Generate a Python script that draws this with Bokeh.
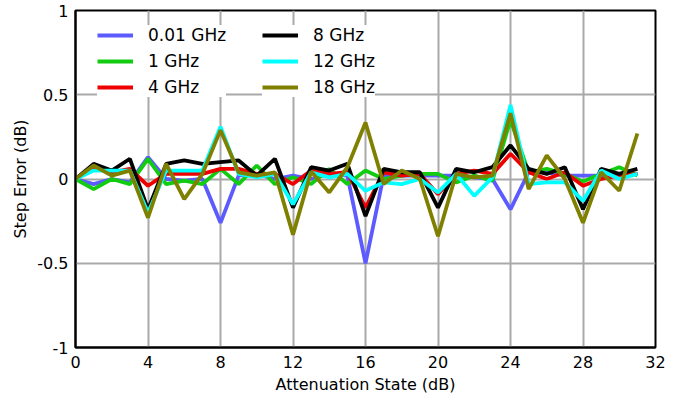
from bokeh.plotting import figure
from bokeh.models import Legend, LegendItem, FixedTicker, Range1d
from bokeh.embed import file_html
from bokeh.resources import INLINE

states = list(range(32))

err_001 = [0.0, -0.03, 0.0, -0.02, 0.13, 0.0, -0.01, 0.0, -0.26, 0.02, 0.03, 0.0,
           0.02, 0.0, 0.03, 0.02, -0.5, 0.02, 0.02, 0.02, 0.02, 0.02, 0.01, 0.0,
           -0.18, 0.04, 0.04, 0.02, 0.02, 0.02, 0.03, 0.03]
err_1 = [0.0, -0.06, 0.0, -0.03, 0.12, -0.03, -0.01, -0.03, 0.06, -0.03, 0.08, -0.03,
         0.01, -0.03, 0.06, -0.03, 0.05, 0.0, 0.02, 0.03, 0.03, -0.02, 0.02, -0.01,
         0.35, 0.04, 0.06, 0.03, -0.015, 0.03, 0.07, 0.02]
err_4 = [0.0, 0.07, 0.04, 0.06, -0.04, 0.03, 0.03, 0.03, 0.06, 0.06, 0.03, 0.03,
         -0.03, 0.05, 0.03, 0.04, -0.17, 0.04, 0.02, 0.03, -0.09, 0.03, 0.05, 0.03,
         0.15, 0.04, 0.0, 0.04, -0.04, 0.0, 0.02, 0.03]
err_8 = [0.0, 0.09, 0.05, 0.12, -0.18, 0.09, 0.11, 0.09, 0.10, 0.11, 0.02, 0.12,
         -0.17, 0.07, 0.05, 0.09, -0.22, 0.06, 0.04, 0.04, -0.17, 0.06, 0.04, 0.07,
         0.20, 0.06, 0.03, 0.07, -0.18, 0.06, 0.03, 0.06]
err_12 = [0.0, 0.05, 0.05, 0.05, -0.2, 0.05, 0.05, 0.05, 0.31, 0.03, 0.01, 0.03,
          -0.15, 0.04, 0.01, 0.03, -0.07, -0.02, -0.03, 0.0, -0.08, 0.03, -0.1, 0.01,
          0.44, -0.03, -0.02, -0.02, -0.13, 0.05, 0.0, 0.03]
err_18 = [0.0, 0.08, 0.02, 0.05, -0.23, 0.09, -0.12, 0.03, 0.29, 0.04, 0.02, 0.04,
          -0.33, 0.045, -0.08, 0.07, 0.335, -0.03, 0.05, 0.0, -0.34, 0.03, 0.01, 0.02,
          0.39, -0.06, 0.14, 0.0, -0.26, 0.04, -0.07, 0.27]

series_names = ["0.01 GHz", "1 GHz", "4 GHz", "8 GHz", "12 GHz", "18 GHz"]
series_vals = [err_001, err_1, err_4, err_8, err_12, err_18]
colors = ["#5b5bff", "#11cc11", "#ee0000", "#000000", "#00ffff", "#808000"]

x_ticks = [0, 4, 8, 12, 16, 20, 24, 28, 32]
y_ticks = [-1, -0.5, 0, 0.5, 1]
y_tick_labels = ["-1", "-0.5", "0", "0.5", "1"]

p = figure(width=675, height=398, output_backend="svg", toolbar_location=None,
           x_range=Range1d(0, 32), y_range=Range1d(-1, 1),
           min_border_left=75, min_border_right=20, min_border_top=10, min_border_bottom=51)

p.background_fill_color = "white"
p.border_fill_color = "white"
p.outline_line_color = "black"
p.outline_line_width = 2
p.outline_line_alpha = 1

for ax in (p.xaxis[0], p.yaxis[0]):
    ax.axis_line_color = "black"
    ax.axis_line_width = 2
    ax.major_tick_in = 0
    ax.major_tick_out = 0
    ax.minor_tick_in = 0
    ax.minor_tick_out = 0
    ax.major_label_text_font = "DejaVu Sans"
    ax.major_label_text_font_size = "16px"
    ax.major_label_text_color = "black"
    ax.axis_label_text_font = "DejaVu Sans"
    ax.axis_label_text_font_size = "16px"
    ax.axis_label_text_font_style = "normal"
    ax.axis_label_text_color = "black"

p.xaxis.ticker = FixedTicker(ticks=x_ticks)
p.yaxis.ticker = FixedTicker(ticks=y_ticks)
p.yaxis.major_label_overrides = {t: s for t, s in zip(y_ticks, y_tick_labels)}
p.xaxis.axis_label = "Attenuation State (dB)"
p.yaxis.axis_label = "Step Error (dB)"
p.xaxis.major_label_standoff = 8
p.xaxis.axis_label_standoff = 4
p.yaxis.major_label_standoff = 7
p.yaxis.axis_label_standoff = 4

p.xgrid.grid_line_color = "#a9a9a9"
p.ygrid.grid_line_color = "#a9a9a9"
p.xgrid.grid_line_width = 2
p.ygrid.grid_line_width = 2

renderers = []
for name, vals, c in zip(series_names, series_vals, colors):
    r = p.line(states, vals, line_color=c, line_width=3.8)
    renderers.append(r)

def make_legend(idx, loc):
    lg = Legend(items=[LegendItem(label=series_names[i], renderers=[renderers[i]]) for i in idx],
                location=loc)
    lg.border_line_color = None
    lg.background_fill_color = "white"
    lg.background_fill_alpha = 1
    lg.padding = 9
    lg.spacing = 6
    lg.margin = 0
    lg.glyph_width = 36
    lg.glyph_height = 20
    lg.label_height = 20
    lg.label_standoff = 15
    lg.label_text_font = "DejaVu Sans"
    lg.label_text_font_size = "17px"
    lg.label_text_color = "black"
    lg.label_text_baseline = "middle"
    return lg

p.add_layout(make_legend([0, 1, 2], (22, 250)), "center")
p.add_layout(make_legend([3, 4, 5], (187, 250)), "center")

open("out.html", "w").write(file_html(p, INLINE))
